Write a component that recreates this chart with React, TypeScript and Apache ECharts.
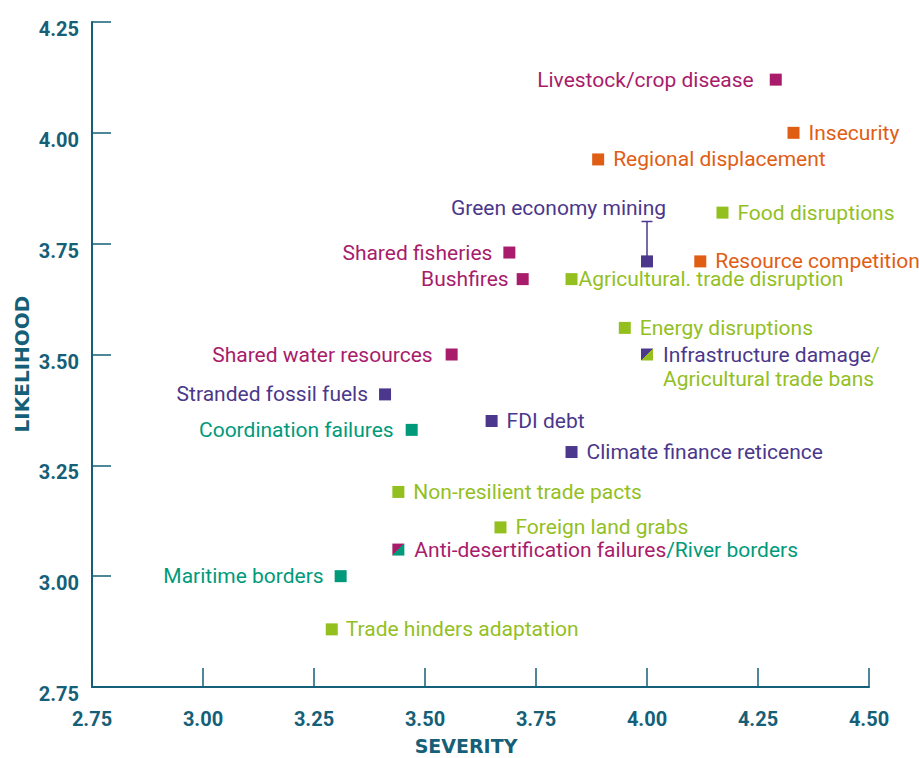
import React, { useEffect, useRef } from 'react';
import * as echarts from 'echarts';

// ---- data ----
const risks = [
  'Livestock/crop disease',
  'Insecurity',
  'Regional displacement',
  'Green economy mining',
  'Food disruptions',
  'Resource competition',
  'Shared fisheries',
  'Bushfires',
  'Agricultural. trade disruption',
  'Energy disruptions',
  'Infrastructure damage/Agricultural trade bans',
  'Shared water resources',
  'Stranded fossil fuels',
  'Coordination failures',
  'FDI debt',
  'Climate finance reticence',
  'Non-resilient trade pacts',
  'Foreign land grabs',
  'Anti-desertification failures/River borders',
  'Maritime borders',
  'Trade hinders adaptation',
];
const severity = [4.29, 4.33, 3.89, 4.0, 4.17, 4.12, 3.69, 3.72, 3.83, 3.95, 4.0, 3.56, 3.41, 3.47, 3.65, 3.83, 3.44, 3.67, 3.44, 3.31, 3.29];
const likelihood = [4.12, 4.0, 3.94, 3.71, 3.82, 3.71, 3.73, 3.67, 3.67, 3.56, 3.5, 3.5, 3.41, 3.33, 3.35, 3.28, 3.19, 3.11, 3.06, 3.0, 2.88];
// colour group of each risk (second entry for shared risks)
const groupA = ['m', 'o', 'o', 'p', 'g', 'o', 'm', 'm', 'g', 'g', 'p', 'm', 'p', 't', 'p', 'p', 'g', 'g', 'm', 't', 'g'];
const groupB = [null, null, null, null, null, null, null, null, null, null, 'g', null, null, null, null, null, null, null, 't', null, null];
// error bar: Green economy mining
const errorRisk = 'Green economy mining';
const errorLow = 3.71;
const errorHigh = 3.8;

const xTicks = { min: 2.75, max: 4.5, interval: 0.25 };
const yTicks = { min: 2.75, max: 4.25, interval: 0.25 };

// ---- styles ----
const palette: Record<string, string> = {
  m: '#a81c6b',
  o: '#df5e14',
  g: '#93c01f',
  p: '#4b378b',
  t: '#009a7b',
};
const axisColour = '#155f78';

const labelLayout: Record<string, any> = {
  'Livestock/crop disease': { position: 'left', distance: 16 },
  'Insecurity': { position: 'right', distance: 9 },
  'Regional displacement': { position: 'right', distance: 9 },
  'Green economy mining': { position: [-82.5, -47], align: 'center', verticalAlign: 'middle' },
  'Food disruptions': { position: 'right', distance: 9 },
  'Resource competition': { position: 'right', distance: 9 },
  'Shared fisheries': { position: 'left', distance: 11 },
  'Bushfires': { position: 'left', distance: 8 },
  'Agricultural. trade disruption': { position: 'right', distance: 1 },
  'Energy disruptions': { position: 'right', distance: 9 },
  'Infrastructure damage/Agricultural trade bans': { position: [22, 18], align: 'left', verticalAlign: 'middle' },
  'Shared water resources': { position: 'left', distance: 13 },
  'Stranded fossil fuels': { position: 'left', distance: 11 },
  'Coordination failures': { position: 'left', distance: 12 },
  'FDI debt': { position: 'right', distance: 9 },
  'Climate finance reticence': { position: 'right', distance: 9 },
  'Non-resilient trade pacts': { position: 'right', distance: 9 },
  'Foreign land grabs': { position: 'right', distance: 9 },
  'Anti-desertification failures/River borders': { position: 'right', distance: 10 },
  'Maritime borders': { position: 'left', distance: 11 },
  'Trade hinders adaptation': { position: 'right', distance: 8 },
};

const labelFont = { fontFamily: 'Roboto', fontSize: 21 };

function buildData() {
  return risks.map((name, i) => {
    const cA = palette[groupA[i]];
    const cB = groupB[i] ? palette[groupB[i] as string] : null;
    const lay = labelLayout[name] || { position: 'right', distance: 9 };
    const item: any = {
      name,
      value: [severity[i], likelihood[i]],
      itemStyle: {
        opacity: 1,
        color: cB
          ? new echarts.graphic.LinearGradient(0, 0, 1, 1, [
              { offset: 0, color: cA },
              { offset: 0.5, color: cA },
              { offset: 0.5, color: cB },
              { offset: 1, color: cB },
            ])
          : cA,
      },
      label: {
        show: true,
        ...lay,
        ...labelFont,
        color: cA,
      },
    };
    if (cB) {
      const parts = name.split('/');
      if (name.startsWith('Infrastructure')) {
        item.label.formatter = `{a|${parts[0]}}{b|/}\n{b|${parts[1]}}`;
      } else {
        item.label.formatter = `{a|${parts[0]}}{b|/${parts[1]}}`;
      }
      item.label.rich = {
        a: { ...labelFont, color: cA, lineHeight: 24 },
        b: { ...labelFont, color: cB, lineHeight: 24 },
      };
    } else {
      item.label.formatter = name;
    }
    return item;
  });
}

export default function App() {
  const ref = useRef<HTMLDivElement>(null);
  useEffect(() => {
    if (!ref.current) return;
    const chart = echarts.init(ref.current, undefined, { renderer: 'svg' });
    const errIdx = risks.indexOf(errorRisk);
    const errColour = palette[groupA[errIdx]];
    const option: any = {
      animation: false,
      backgroundColor: '#ffffff',
      grid: { left: 92, right: 50, top: 22, bottom: 71, containLabel: false, outerBoundsMode: 'none' },
      xAxis: {
        type: 'value',
        min: xTicks.min,
        max: xTicks.max,
        interval: xTicks.interval,
        splitLine: { show: false },
        axisLine: { show: true, onZero: false, lineStyle: { color: axisColour, width: 2 } },
        axisTick: { show: true, inside: true, length: 19, lineStyle: { color: axisColour, width: 1.5 } },
        axisLabel: {
          margin: 22,
          color: axisColour,
          fontFamily: 'Roboto',
          fontWeight: 'bold',
          fontSize: 20,
          formatter: (v: number) => v.toFixed(2),
        },
      },
      yAxis: {
        type: 'value',
        min: yTicks.min,
        max: yTicks.max,
        interval: yTicks.interval,
        splitLine: { show: false },
        axisLine: { show: true, onZero: false, lineStyle: { color: axisColour, width: 2 } },
        axisTick: { show: true, inside: true, length: 19, lineStyle: { color: axisColour, width: 1.5 } },
        axisLabel: {
          margin: 13,
          color: axisColour,
          fontFamily: 'Roboto',
          fontWeight: 'bold',
          fontSize: 20,
          verticalAlign: 'top',
          lineHeight: 14,
          formatter: (v: number) => v.toFixed(2),
        },
      },
      graphic: [
        {
          type: 'text',
          x: 466,
          y: 746,
          style: {
            text: 'SEVERITY',
            fill: axisColour,
            font: 'bold 19px "DejaVu Sans"',
            align: 'center',
            verticalAlign: 'middle',
          },
        },
        {
          type: 'text',
          x: 22,
          y: 364,
          rotation: Math.PI / 2,
          style: {
            text: 'LIKELIHOOD',
            fill: axisColour,
            font: 'bold 20px "DejaVu Sans"',
            align: 'center',
            verticalAlign: 'middle',
          },
        },
      ],
      series: [
        {
          type: 'custom',
          z: 1,
          data: [[severity[errIdx], errorLow, errorHigh]],
          renderItem: (params: any, api: any) => {
            const x = api.value(0);
            const p0 = api.coord([x, api.value(1)]);
            const p1 = api.coord([x, api.value(2)]);
            return {
              type: 'group',
              children: [
                { type: 'line', shape: { x1: p0[0], y1: p0[1], x2: p1[0], y2: p1[1] }, style: { stroke: errColour, lineWidth: 1.5 } },
                { type: 'line', shape: { x1: p1[0] - 5.5, y1: p1[1], x2: p1[0] + 5.5, y2: p1[1] }, style: { stroke: errColour, lineWidth: 1.5 } },
              ],
            };
          },
        },
        {
          type: 'scatter',
          z: 3,
          symbol: 'rect',
          symbolSize: 12,
          itemStyle: { opacity: 1 },
          data: buildData(),
          emphasis: { disabled: true },
        },
      ],
    };
    chart.setOption(option);
    return () => chart.dispose();
  }, []);
  return <div ref={ref} style={{ position: 'fixed', left: 0, top: 0, width: 919, height: 758 }} />;
}
